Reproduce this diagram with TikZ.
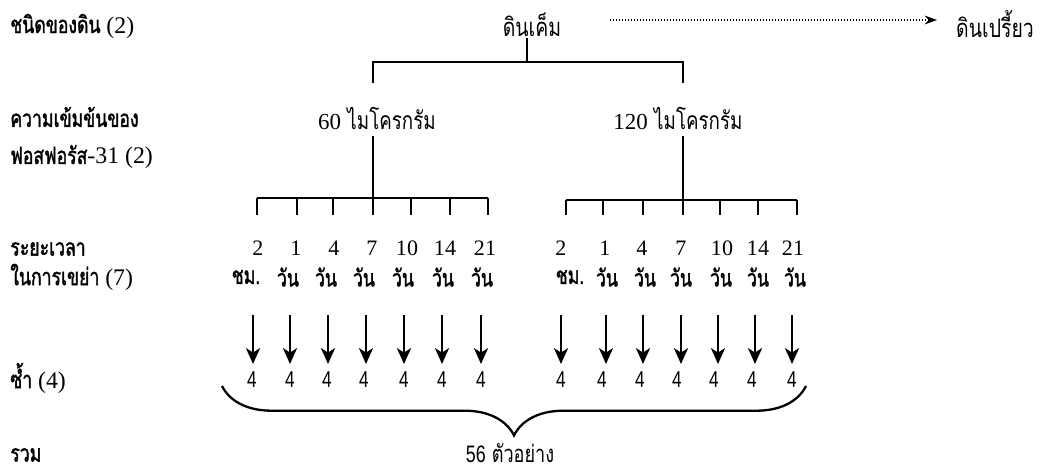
\documentclass[tikz,border=0pt]{standalone}
\usepackage{fontspec}
\newfontfamily\thai[Script=Thai,FakeStretch=0.74,FakeBold=1.5]{Loma}
\newfontfamily\thaireg[Script=Thai,FakeStretch=0.76]{Loma}
\newfontfamily\tnum{Liberation Serif}
\newfontfamily\snum[FakeStretch=0.75]{Liberation Sans}
\usetikzlibrary{arrows.meta,decorations.pathreplacing}
\tikzset{
  lbl/.style={anchor=west, inner sep=0pt, font=\thai\fontsize{13.5}{15}\selectfont},
  txt/.style={inner sep=0pt, font=\thai\fontsize{13.5}{15}\selectfont},
  regtxt/.style={inner sep=0pt, font=\thaireg\fontsize{14}{16}\selectfont},
  bigtxt/.style={inner sep=0pt, font=\thaireg\fontsize{14.5}{16}\selectfont},
  numtxt/.style={inner sep=0pt, font=\tnum\fontsize{12.5}{14}\selectfont},
  reptxt/.style={inner sep=0pt, font=\snum\fontsize{13}{15}\selectfont},
  brk/.style={line width=1.4pt},
  tick/.style={line width=1.2pt},
  downarr/.style={line width=1.2pt, -{Stealth[length=9pt,width=8pt,inset=2.5pt]}},
  dotarr/.style={line width=0.7pt, dash pattern=on 0.7pt off 1pt, -{Stealth[length=7pt,width=5pt]}},
  bracestyle/.style={line width=1.3pt, decorate, decoration={brace, amplitude=28pt, aspect=0.5}}
}
\begin{document}
\begin{tikzpicture}[x=0.5669pt,y=-0.5669pt]
\useasboundingbox (0,0) rectangle (1041,475);
% left labels
\node[lbl] (l1) at (10,26) {ชนิดของดิน {\tnum (2)}};
\node[lbl] (l2) at (10,117) {ความเข้มข้นของ};
\node[lbl] (l3) at (10,157) {ฟอสฟอรัส{\tnum -31 (2)}};
\node[lbl] (l4) at (10,249) {ระยะเวลา};
\node[lbl] (l5) at (10,277) {ในการเขย่า {\tnum (7)}};
\node[lbl] (l6) at (10,378) {ซ้ำ {\tnum (4)}};
\node[lbl] (l7) at (10,455) {รวม};
% soil
\node[bigtxt] (salt) at (532,25) {ดินเค็ม};
\node[bigtxt] (sour) at (995,24) {ดินเปรี้ยว};
\coordinate (dotstart) at (610,20);
\coordinate (dotend) at (937,20);
\draw[dotarr] (dotstart) -- (dotend);
% concentrations
\node[regtxt] (c60) at (377,118) {{\tnum\fontsize{13}{15}\selectfont 60} ไมโครกรัม};
\node[regtxt] (c120) at (678,118) {{\tnum\fontsize{13}{15}\selectfont 120} ไมโครกรัม};
\coordinate (saltdown) at (527,38);
\coordinate (barA) at (527,62);
\draw[brk] (saltdown) -- (barA);
\draw[brk] (373,83) -- (373,62) -- (683,62) -- (683,83);
% branches
\coordinate (c60d) at (373,136);
\coordinate (c120d) at (683,136);
\draw[brk] (c60d) -- (373,198);
\draw[brk] (c120d) -- (683,200);
\draw[brk] (257,198) -- (488,198);
\draw[brk] (566,200) -- (797,200);
\foreach \x in {257,297,333,373,411,450,488} \draw[tick] (\x,198) -- (\x,215);
\foreach \x in {566,603,643,683,720,758,797} \draw[tick] (\x,200) -- (\x,215);
% time columns
\foreach \i/\nx/\num/\ux/\unit/\ax/\rx in {
  1/258/2/246/ชม./253/252,
  2/296/1/288/วัน/290/290,
  3/334/4/326/วัน/328/327,
  4/372/7/364/วัน/366/364,
  5/407/10/403/วัน/404/404,
  6/445/14/443/วัน/442/442,
  7/485/21/482/วัน/481/481,
  8/561/2/570/ชม./561/561,
  9/605/1/607/วัน/606/602,
  10/642/4/645/วัน/643/640,
  11/681/7/681/วัน/681/677,
  12/722/10/721/วัน/718/714,
  13/758/14/758/วัน/755/752,
  14/793/21/795/วัน/792/792}
{
  \node[numtxt] (n\i) at (\nx,248) {\num};
  \node[txt] (u\i) at (\ux,277) {\unit};
  \node[reptxt] (r\i) at (\rx,380) {4};
  \coordinate (as\i) at (\ax,315);
  \coordinate (ae\i) at (\ax,364);
  \draw[downarr] (as\i) -- (ae\i);
}
% brace and total
\coordinate (bl) at (222,386);
\coordinate (br) at (806,386);
\draw[bracestyle] (br) -- (bl);
\node[regtxt, font=\thaireg\fontsize{13.5}{15}\selectfont] (total) at (510,453) {{\snum 56} ตัวอย่าง};
\end{tikzpicture}
\end{document}
